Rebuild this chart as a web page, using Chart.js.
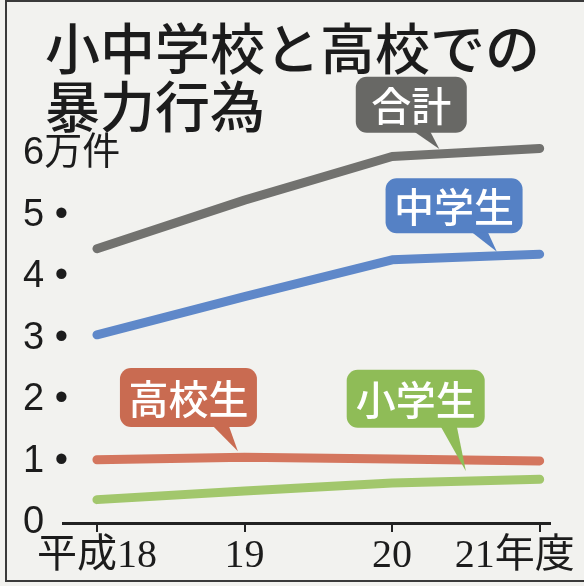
<!DOCTYPE html>
<html>
<head>
<meta charset="utf-8">
<script src="https://cdn.jsdelivr.net/npm/chart.js@4/dist/chart.umd.min.js"></script>
<style>
    body { margin: 0; background: #f2f2ef; }
    #wrap { position: relative; width: 584px; height: 586px; overflow: hidden; }
    #frame { position: absolute; left: 5px; top: 0; width: 600px; height: 582px;
             border: 2px solid #3a3a3a; box-sizing: border-box; }
    #title { position: absolute; left: 45px; top: 16px; margin: 0;
             font: 500 55px/58px "Noto Sans CJK JP", sans-serif; color: #1c1c1c; }
    canvas { position: absolute; left: 0; top: 0; }
</style>
</head>
<body>
<div id="wrap">
    <div id="frame"></div>
    <h1 id="title">小中学校と高校での<br>暴力行為</h1>
    <canvas id="violenceChart" width="584" height="586"></canvas>
</div>
<script>
// 暴力行為の発生件数（万件）
const years = ['平成18', '19', '20', '21年度'];
const total = [4.46, 5.25, 5.96, 6.09];
const juniorHigh = [3.06, 3.68, 4.28, 4.37];
const highSchool = [1.03, 1.07, 1.04, 1.01];
const elementary = [0.38, 0.52, 0.65, 0.71];
const yTicks = [0, 1, 2, 3, 4, 5, 6];

const colors = {
    total: '#72726f',
    juniorHigh: '#5f88c9',
    highSchool: '#d4765e',
    elementary: '#a2c76c'
};

// 吹き出し: at = 箱の中心 (x, y の値), tipAt = 指す x の値
const callouts = [
    { text: '合計', values: total, fill: '#686865', at: [2.13, 6.80], w: 111, h: 56, tipAt: 2.32, gap: 5 },
    { text: '中学生', values: juniorHigh, fill: '#5581c5', at: [2.42, 5.16], w: 137, h: 55, tipAt: 2.71, gap: 4 },
    { text: '高校生', values: highSchool, fill: '#c96b51', at: [0.62, 2.04], w: 137, h: 59, tipAt: 0.955, gap: 6 },
    { text: '小学生', values: elementary, fill: '#8fbc57', at: [2.16, 2.02], w: 138, h: 58, tipAt: 2.5, gap: 10 }
];

function toPoints(values) {
    return values.map(function(v, i) { return { x: i, y: v }; });
}

function line(label, values, color) {
    return {
        label: label,
        data: toPoints(values),
        borderColor: color,
        borderWidth: 9,
        borderCapStyle: 'round',
        borderJoinStyle: 'round',
        pointRadius: 0,
        tension: 0,
        clip: false
    };
}

const calloutPlugin = {
    id: 'callouts',
    afterDatasetsDraw(chart) {
        const ctx = chart.ctx;
        const x = chart.scales.x;
        const y = chart.scales.y;
        callouts.forEach(function(c) {
            const vals = c.values;
            const i = Math.min(Math.floor(c.tipAt), vals.length - 2);
            const t = c.tipAt - i;
            const v = vals[i] + (vals[i + 1] - vals[i]) * t;
            const tx = x.getPixelForValue(c.tipAt);
            const ty = y.getPixelForValue(v) - c.gap;
            const cx = x.getPixelForValue(c.at[0]);
            const cy = y.getPixelForValue(c.at[1]);
            const left = cx - c.w / 2, top = cy - c.h / 2;

            ctx.save();
            ctx.fillStyle = c.fill;
            ctx.beginPath();
            ctx.roundRect(left, top, c.w, c.h, 11);
            ctx.fill();
            ctx.beginPath();
            ctx.moveTo(tx - 25, top + c.h - 1);
            ctx.lineTo(tx - 9, top + c.h - 1);
            ctx.lineTo(tx, ty);
            ctx.closePath();
            ctx.fill();
            ctx.fillStyle = '#ffffff';
            ctx.font = '500 40px "Noto Sans CJK JP", sans-serif';
            ctx.textAlign = 'center';
            ctx.textBaseline = 'middle';
            ctx.fillText(c.text, cx, cy + 1);
            ctx.restore();
        });
    }
};

document.addEventListener('DOMContentLoaded', function() {
    const ctx = document.getElementById('violenceChart').getContext('2d');

    new Chart(ctx, {
        type: 'line',
        data: {
            datasets: [
                line('合計', total, colors.total),
                line('中学生', juniorHigh, colors.juniorHigh),
                line('高校生', highSchool, colors.highSchool),
                line('小学生', elementary, colors.elementary)
            ]
        },
        options: {
            responsive: false,
            animation: false,
            layout: {
                padding: { left: 23, right: 34, top: 154, bottom: 7 }
            },
            plugins: {
                legend: { display: false },
                tooltip: { enabled: false }
            },
            scales: {
                x: {
                    type: 'linear',
                    min: -0.23,
                    max: 3.07,
                    afterBuildTicks: function(scale) {
                        scale.ticks = years.map(function(_, i) { return { value: i }; });
                    },
                    afterFit: function(scale) {
                        scale.height = 56;
                        scale.paddingLeft = 0;
                        scale.paddingRight = 0;
                    },
                    grid: {
                        drawOnChartArea: false,
                        tickLength: 9,
                        lineWidth: 2,
                        color: '#222'
                    },
                    border: { color: '#222', width: 3 },
                    ticks: {
                        padding: 0,
                        maxRotation: 0,
                        autoSkip: false,
                        color: '#1c1c1c',
                        font: { family: '"Liberation Serif", "Noto Sans CJK JP"', size: 40 },
                        callback: function(value) {
                            // 最後のラベルは枠に収まるよう左へ寄せる
                            return years[value] + (value === years.length - 1 ? '\u3000 ' : '');
                        }
                    }
                },
                y: {
                    min: 0,
                    max: 6,
                    afterBuildTicks: function(scale) {
                        scale.ticks = yTicks.map(function(v) { return { value: v }; });
                    },
                    afterFit: function(scale) {
                        scale.width = 40;
                        scale.paddingTop = 0;
                        scale.paddingBottom = 0;
                    },
                    grid: { display: false },
                    border: { display: false },
                    ticks: {
                        // mirror + 負の padding でラベルを軸の左端から描き、切り取りを避ける
                        mirror: true,
                        padding: -40,
                        color: '#1c1c1c',
                        font: { family: '"Liberation Sans", "Noto Sans CJK JP"', size: 38 },
                        callback: function(value) {
                            if (value === 6) return '6万件';
                            if (value === 0) return '0';
                            return value + ' •';
                        }
                    }
                }
            }
        },
        plugins: [calloutPlugin]
    });
});
</script>
</body>
</html>
